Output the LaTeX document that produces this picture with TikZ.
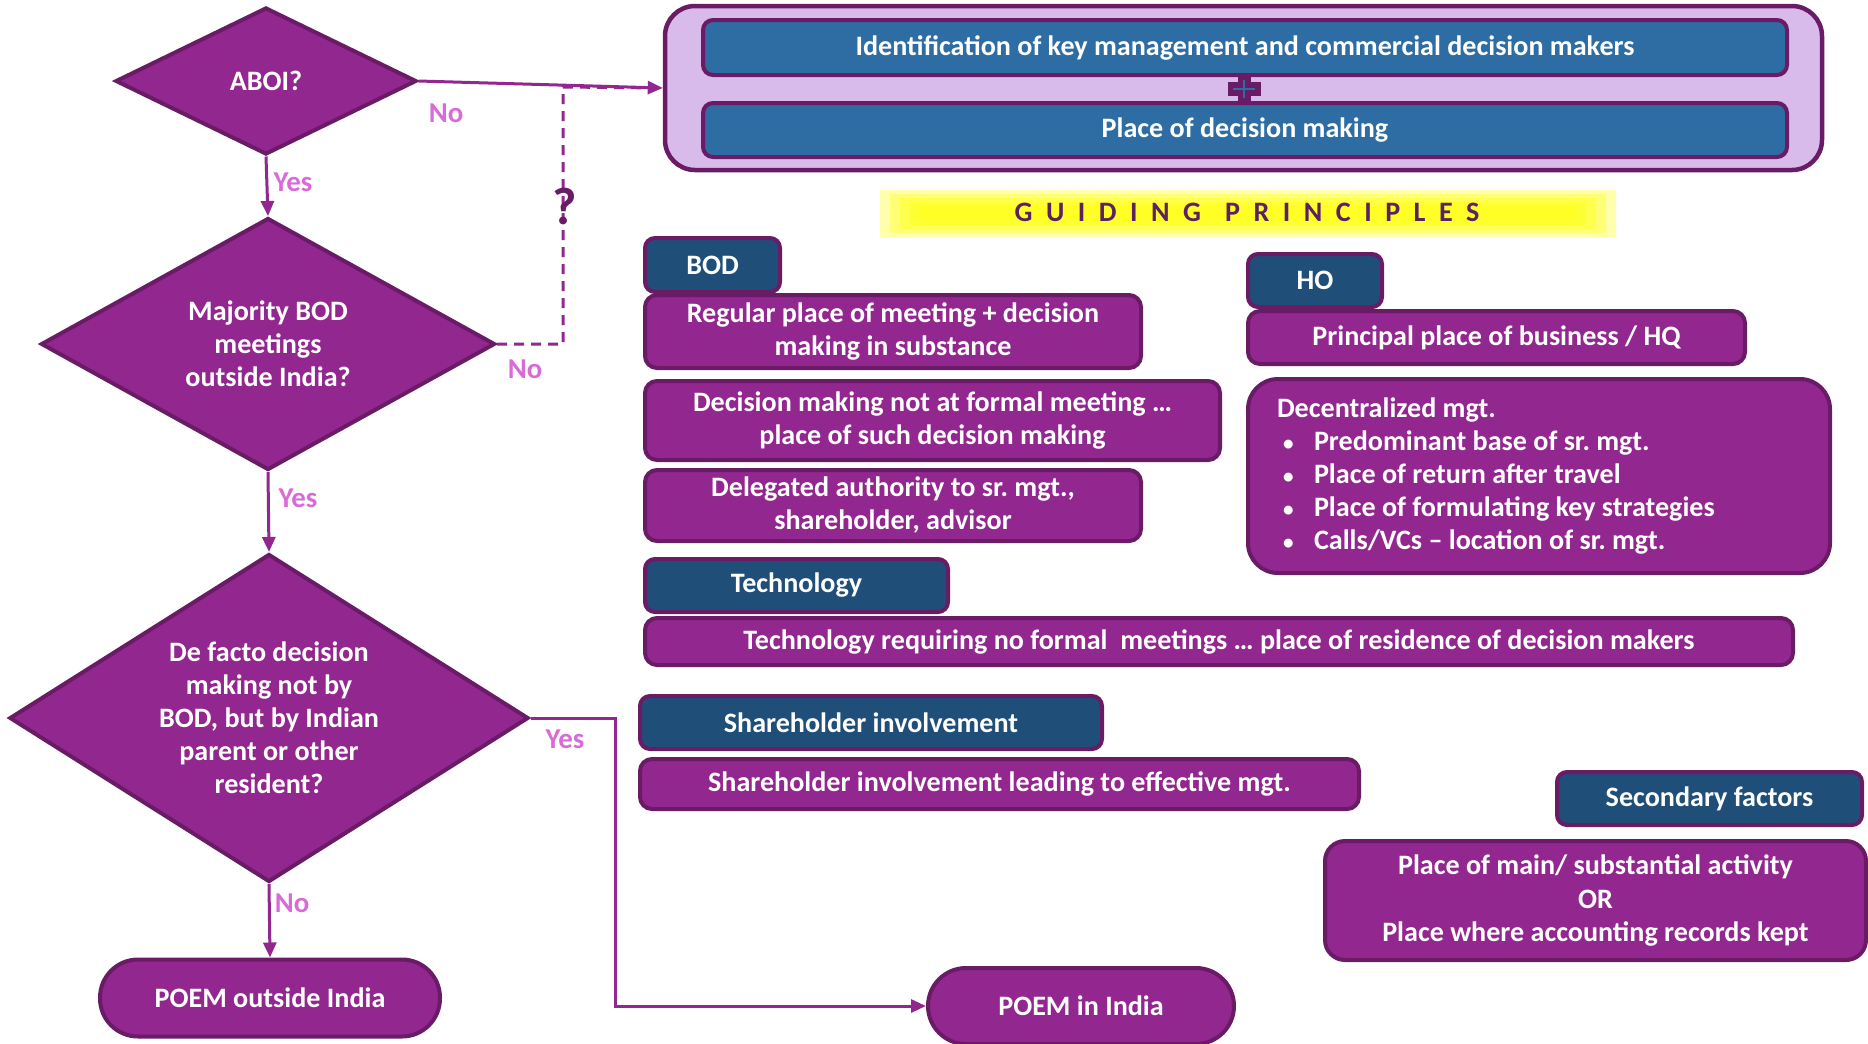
\documentclass[tikz,border=0pt]{standalone}
\usepackage{fontspec}
\setmainfont{Carlito}
\usepackage{tikz}
\usetikzlibrary{shapes.geometric, arrows.meta, positioning}

\definecolor{poemPurple}{HTML}{92278F}
\definecolor{edgePurple}{HTML}{6A1B66}
\definecolor{headBlue}{HTML}{1F4E79}
\definecolor{topBlue}{HTML}{2E6DA4}
\definecolor{lavender}{HTML}{D8BBEA}
\definecolor{labelPink}{HTML}{D96BD8}
\definecolor{titlePurple}{HTML}{5C2161}

\frenchspacing
\newcommand{\bodyfont}{\bfseries\fontsize{8}{9.4}\selectfont}
\newcommand{\answerfont}{\bfseries\fontsize{8.2}{9}\selectfont}
\newcommand{\pt}{\hspace*{0.6mm}\makebox[3.1mm][l]{\fontsize{6}{6}\selectfont •}}

\pgfdeclarehorizontalshading{glow}{100bp}{color(0bp)=(white); color(22bp)=(yellow); color(78bp)=(yellow); color(100bp)=(white)}

\tikzset{
	box/.style={draw=edgePurple, line width=0.4mm, rounded corners=1.2mm, fill=poemPurple, text=white, font=\bodyfont, align=center, inner sep=0pt},
	headbox/.style={box, fill=headBlue, rounded corners=1mm},
	topbox/.style={box, fill=topBlue, rounded corners=1mm},
	decision/.style={diamond, draw=edgePurple, line width=0.4mm, fill=poemPurple, text=white, font=\bodyfont, align=center, inner sep=0pt},
	terminal/.style={box, rounded corners=3.8mm},
	flow/.style={draw=poemPurple, line width=0.3mm, -{Triangle[length=1.5mm, width=1.3mm]}},
	answer/.style={text=labelPink, font=\answerfont},
	haze/.style={shading=glow, opacity=0.32},
}

\begin{document}
\begin{tikzpicture}[x=0.1mm, y=-0.1mm]
	\useasboundingbox (0,0) rectangle (1868,1043);

	% decision chain
	\node[decision, minimum width=30.1mm, minimum height=14.7mm, shape aspect=2] (aboi) at (266,81) {ABOI?};
	\node[decision, minimum width=45.4mm, minimum height=25.2mm, shape aspect=1.8] (majority) at (268,344) {Majority BOD\\meetings\\outside India?};
	\node[decision, minimum width=51.9mm, minimum height=32.8mm, shape aspect=1.58] (defacto) at (269,718) {De facto decision\\making not by\\BOD, but by Indian\\parent or other\\resident?};
	\node[terminal, minimum width=34mm, minimum height=7.7mm] (poemout) at (270,998) {POEM outside India};
	\node[terminal, minimum width=30.6mm, minimum height=7.6mm] (poemin) at (1081,1006) {POEM in India};

	% key test box
	\node[box, fill=lavender, rounded corners=3mm, line width=0.45mm, minimum width=115.7mm, minimum height=16.4mm] (keybox) at (1243.5,88) {};
	\node[topbox, minimum width=108.4mm, minimum height=5.5mm] (keyid) at (1245,47.5) {Identification of key management and commercial decision makers};
	\node[topbox, minimum width=108.4mm, minimum height=5.4mm] (keyplace) at (1245,130) {Place of decision making};
	\fill[edgePurple] (1238,75) rectangle (1251,103);
	\fill[edgePurple] (1228,82) rectangle (1261,96);
	\draw[topBlue, line width=0.25mm] (1233,89) -- (1255,89) (1244,80) -- (1244,98);

	% guiding principles
	\shade[haze] (880,190) rectangle (1616,236);
	\shade[haze] (890,194) rectangle (1606,232);
	\shade[haze] (900,198) rectangle (1596,228);
	\shade[haze] (910,202) rectangle (1586,224);
	\shade[haze] (920,205) rectangle (1576,220);
	\node[text=titlePurple, font=\bfseries\fontsize{8}{9}\selectfont] (guide) at (1247,212) {\addfontfeature{LetterSpace=48}GUIDING\hspace{2.4mm}PRINCIPLES};

	% BOD
	\node[headbox, minimum width=13.5mm, minimum height=5.4mm] (bod) at (712.5,265) {BOD};
	\node[box, minimum width=49.6mm, minimum height=7.3mm] (bodmeet) at (893,331.5) {Regular place of meeting + decision\\making in substance};
	\node[box, minimum width=57.5mm, minimum height=7.9mm] (bodinformal) at (932.5,420.5) {Decision making not at formal meeting …\\place of such decision making};
	\node[box, minimum width=49.6mm, minimum height=7.1mm] (bodauth) at (893,505.5) {Delegated authority to sr. mgt.,\\shareholder, advisor};

	% HO
	\node[headbox, minimum width=13.4mm, minimum height=5.3mm] (ho) at (1315,280.5) {HO};
	\node[box, minimum width=49.7mm, minimum height=5.3mm] (hoplace) at (1496.5,337.5) {Principal place of business / HQ};
	\node[box, rounded corners=3mm, minimum width=58.2mm, minimum height=19.4mm, text width=52.4mm, align=left, inner xsep=2.9mm] (hodecent) at (1539,476) {\spaceskip=0pt \xspaceskip=0pt Decentralized mgt.\\
		\pt Predominant base of sr. mgt.\\
		\pt Place of return after travel\\
		\pt Place of formulating key strategies\\
		\pt Calls/VCs – location of sr. mgt.};

	% technology, shareholders, secondary
	\node[headbox, minimum width=30.3mm, minimum height=5.3mm] (tech) at (796.5,585.5) {Technology};
	\node[box, minimum width=114.8mm, minimum height=4.7mm] (techres) at (1219,641.5) {Technology requiring no formal\ \ meetings … place of residence of decision makers};
	\node[headbox, minimum width=46.2mm, minimum height=5.3mm] (share) at (871,722.5) {Shareholder involvement};
	\node[box, minimum width=71.9mm, minimum height=5mm] (shareeff) at (999.5,784) {Shareholder involvement leading to effective mgt.};
	\node[headbox, minimum width=30.5mm, minimum height=5.3mm] (second) at (1709.5,798.5) {Secondary factors};
	\node[box, rounded corners=2mm, minimum width=54.1mm, minimum height=11.9mm] (secondplace) at (1595.5,900.5) {Place of main/ substantial activity\\OR\\Place where accounting records kept};

	% connectors
	\coordinate (dashturn) at (563,87);
	\coordinate (yesturn) at (615,718);
	\draw[poemPurple, line width=0.3mm, dash pattern=on 1mm off 0.7mm] (majority.east) -| (dashturn) -- (keybox.west);
	\draw[flow] (aboi.east) -- (keybox.west);
	\draw[flow] (aboi.south) -- (majority.north);
	\draw[flow] (majority.south) -- (defacto.north);
	\draw[flow] (defacto.south) -- (poemout.north);
	\draw[flow] (defacto.east) -- (yesturn) |- (poemin.west);
	\node[text=edgePurple, font=\bfseries\fontsize{15}{15}\selectfont] (unsure) at (565,206) {?};

	\node[answer] (aboino) at (446,113) {No};
	\node[answer] (aboiyes) at (293,182) {Yes};
	\node[answer] (majno) at (525,369) {No};
	\node[answer] (majyes) at (298,498) {Yes};
	\node[answer] (factyes) at (565,739) {Yes};
	\node[answer] (factno) at (292,903) {No};
\end{tikzpicture}
\end{document}
